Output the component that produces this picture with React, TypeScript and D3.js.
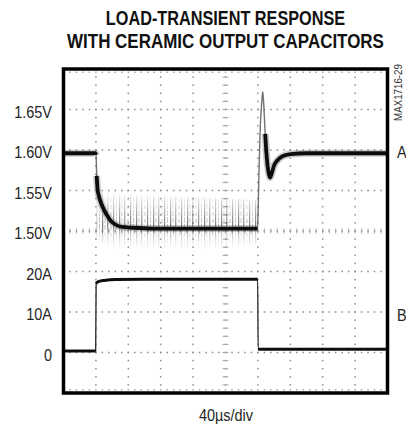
import React from "react";
import * as d3 from "d3";

// Trace A: output voltage (V) vs time (µs)
const timeA = [0, 39.5, 40.2, 41, 42, 44, 47, 50, 54, 58, 64, 72, 85, 110, 150, 200, 239.6, 240.4, 241.5, 243, 245, 246, 247, 249, 251, 253, 255, 257, 260, 264, 270, 280, 300, 400];
const voltsA = [1.596, 1.596, 1.594, 1.568, 1.552, 1.542, 1.533, 1.526, 1.519, 1.513, 1.508, 1.505, 1.504, 1.503, 1.503, 1.503, 1.503, 1.53, 1.58, 1.63, 1.662, 1.672, 1.66, 1.62, 1.59, 1.573, 1.566, 1.571, 1.581, 1.587, 1.592, 1.595, 1.596, 1.596];
// index ranges of trace A where the beam is slow (drawn bold); fast edges stay thin
const slowA = [[0, 2], [3, 16], [23, 33]];

// Trace B: load current (A) vs time (µs)
const timeB = [0, 39.7, 40.3, 42, 50, 65, 100, 239.7, 240.3, 400];
const ampsB = [0.35, 0.35, 17.0, 17.4, 17.8, 18.05, 18.1, 18.1, 0.8, 0.8];
const slowB = [[0, 1], [2, 7], [8, 9]];

// Switching-noise envelope riding on trace A while loaded
const noiseT = [41, 50, 70, 100, 150, 200, 239];
const noiseHi = [1.55, 1.548, 1.546, 1.544, 1.542, 1.54, 1.538];
const noiseLo = [1.49, 1.484, 1.478, 1.476, 1.478, 1.48, 1.484];

const voltTicks = [1.65, 1.6, 1.55, 1.5];
const voltLabels = ["1.65V", "1.60V", "1.55V", "1.50V"];
const ampTicks = [20, 10, 0];
const ampLabels = ["20A", "10A", "0"];

const titleLines = ["LOAD-TRANSIENT RESPONSE", "WITH CERAMIC OUTPUT CAPACITORS"];
const titleSquash = [0.775, 0.808];

const W = 406;
const H = 426;
const left = 63.5;
const right = 387.5;
const top = 69;
const bottom = 393;

const FONT = "'Liberation Sans', Arial, Helvetica, sans-serif";
const NARROW = 0.85;

function Narrow({ x, y, anchor = "start", size = 17, fill = "#262626", weight = "normal", rotate = 0, squash = NARROW, children }: any) {
  return (
    <text
      transform={`translate(${x},${y}) rotate(${rotate}) scale(${squash},1)`}
      textAnchor={anchor}
      fontFamily={FONT}
      fontSize={size}
      fontWeight={weight}
      fill={fill}
    >
      {children}
    </text>
  );
}

export default function App() {
  const x = d3.scaleLinear().domain([0, 400]).range([left, right]);
  const yV = d3.scaleLinear().domain([1.3, 1.7]).range([bottom, top]);
  const yI = d3.scaleLinear().domain([-10, 70]).range([bottom, top]);

  const lineA = d3
    .line<number>()
    .x((i) => x(timeA[i]))
    .y((i) => yV(voltsA[i]))
    .curve(d3.curveMonotoneX);
  const lineB = d3
    .line<number>()
    .x((i) => x(timeB[i]))
    .y((i) => yI(ampsB[i]))
    .curve(d3.curveMonotoneX);
  const noiseArea = d3
    .area<number>()
    .x((_, i) => x(noiseT[i]))
    .y0((_, i) => yV(noiseLo[i]))
    .y1((v) => yV(v))
    .curve(d3.curveMonotoneX);

  const idx = (a: number, b: number) => d3.range(a, b + 1);
  const allA = idx(0, timeA.length - 1);
  const allB = idx(0, timeB.length - 1);

  const xDivs = d3.range(0, 401, 40);
  const yDivs = d3.range(0, 9).map((k) => top + (k * (bottom - top)) / 8);
  const cx = x(200);
  const cy = yDivs[4];
  const xStep = (x(40) - x(0)) / 5;
  const yStep = (bottom - top) / 40;

  const dots: JSX.Element[] = [];
  yDivs.forEach((yy, r) => {
    if (r === 0 || r === 8 || r === 4) return;
    for (let k = 1; k < 50; k++) {
      dots.push(<rect key={`h${r}-${k}`} x={left + k * xStep - 0.75} y={yy - 0.75} width={1.5} height={1.5} fill="#8c8c8c" />);
    }
  });
  xDivs.forEach((t, c) => {
    if (c === 0 || c === 10 || c === 5) return;
    for (let k = 1; k < 40; k++) {
      dots.push(<rect key={`v${c}-${k}`} x={x(t) - 0.75} y={top + k * yStep - 0.75} width={1.5} height={1.5} fill="#8c8c8c" />);
    }
  });
  for (let k = 1; k < 50; k++) {
    const xx = left + k * xStep;
    dots.push(<rect key={`ch${k}`} x={xx - 0.75} y={cy - 0.75} width={1.5} height={1.5} fill="#888" />);
    dots.push(<line key={`cht${k}`} x1={xx} x2={xx} y1={cy - 2.5} y2={cy + 2.5} stroke="#a8a8a8" strokeWidth={1} />);
    dots.push(<rect key={`tb${k}`} x={xx - 0.75} y={top + 2.5} width={1.5} height={1.5} fill="#a8a8a8" />);
    dots.push(<rect key={`bb${k}`} x={xx - 0.75} y={bottom - 4} width={1.5} height={1.5} fill="#a8a8a8" />);
  }
  for (let k = 1; k < 40; k++) {
    const yy = top + k * yStep;
    dots.push(<rect key={`cv${k}`} x={cx - 0.75} y={yy - 0.75} width={1.5} height={1.5} fill="#888" />);
    dots.push(<line key={`cvt${k}`} x1={cx - 3} x2={cx + 3} y1={yy} y2={yy} stroke="#a8a8a8" strokeWidth={1} />);
  }

  return (
    <svg width={W} height={H} style={{ position: "absolute", left: 0, top: 0, background: "#fff" }}>
      <defs>
        <pattern id="streaks" patternUnits="userSpaceOnUse" width={17} height={7}>
          <rect x={0} y={0} width={1.2} height={7} fill="#444" opacity={0.75} />
          <rect x={2.5} y={1} width={1} height={5} fill="#555" opacity={0.4} />
          <rect x={5} y={0} width={1.4} height={7} fill="#444" opacity={0.6} />
          <rect x={8.5} y={2} width={1} height={4} fill="#555" opacity={0.45} />
          <rect x={11} y={0} width={1.2} height={7} fill="#333" opacity={0.65} />
          <rect x={14} y={0} width={1} height={6} fill="#555" opacity={0.4} />
        </pattern>
        <linearGradient id="noiseFade" gradientUnits="userSpaceOnUse" x1={0} x2={0} y1={yV(1.55)} y2={yV(1.476)}>
          <stop offset="0" stopColor="#fff" stopOpacity={0} />
          <stop offset="0.3" stopColor="#fff" stopOpacity={0.5} />
          <stop offset="0.6" stopColor="#fff" stopOpacity={1} />
          <stop offset="0.7" stopColor="#fff" stopOpacity={0.45} />
          <stop offset="0.85" stopColor="#fff" stopOpacity={0.18} />
          <stop offset="1" stopColor="#fff" stopOpacity={0} />
        </linearGradient>
        <mask id="noiseMask" maskUnits="userSpaceOnUse" x={0} y={0} width={W} height={H}>
          <rect x={0} y={0} width={W} height={H} fill="url(#noiseFade)" />
        </mask>
        <filter id="soft" x="-5%" y="-5%" width="110%" height="110%">
          <feGaussianBlur stdDeviation={0.55} />
        </filter>
      </defs>

      {titleLines.map((t, i) => (
        <Narrow key={t} x={225.5} y={25 + i * 23} anchor="middle" size={21} weight="bold" fill="#111" squash={titleSquash[i]}>
          {t}
        </Narrow>
      ))}

      <g>{dots}</g>

      <path d={noiseArea(noiseHi) || ""} fill="url(#streaks)" mask="url(#noiseMask)" />

      <g filter="url(#soft)">
        <path d={lineA(allA) || ""} fill="none" stroke="#444" strokeWidth={1.4} strokeOpacity={0.75} />
        {slowA.map(([a, b]) => (
          <g key={`a${a}`}>
            <path d={lineA(idx(a, b)) || ""} fill="none" stroke="#666" strokeOpacity={0.35} strokeWidth={7} strokeLinejoin="round" />
            <path d={lineA(idx(a, b)) || ""} fill="none" stroke="#111" strokeWidth={3.8} strokeLinejoin="round" />
          </g>
        ))}
        <path d={lineB(allB) || ""} fill="none" stroke="#333" strokeWidth={1.4} />
        {slowB.map(([a, b]) => (
          <g key={`b${a}`}>
            <path d={lineB(idx(a, b)) || ""} fill="none" stroke="#111" strokeWidth={3} strokeLinejoin="round" />
          </g>
        ))}
      </g>

      <rect x={left} y={top} width={right - left} height={bottom - top} fill="none" stroke="#000" strokeWidth={3.5} />

      {voltTicks.map((v, i) => (
        <Narrow key={voltLabels[i]} x={52} y={yV(v) + 8} anchor="end">
          {voltLabels[i]}
        </Narrow>
      ))}
      {ampTicks.map((a, i) => (
        <Narrow key={ampLabels[i]} x={52} y={yI(a) + 8} anchor="end">
          {ampLabels[i]}
        </Narrow>
      ))}

      <Narrow x={397} y={yV(1.596) + 5}>A</Narrow>
      <Narrow x={397} y={yI(10) + 9}>B</Narrow>

      <Narrow x={401.5} y={121} rotate={-90} size={11.5} fill="#333">
        MAX1716-29
      </Narrow>

      <Narrow x={226} y={421} anchor="middle">
        40µs/div
      </Narrow>
    </svg>
  );
}
